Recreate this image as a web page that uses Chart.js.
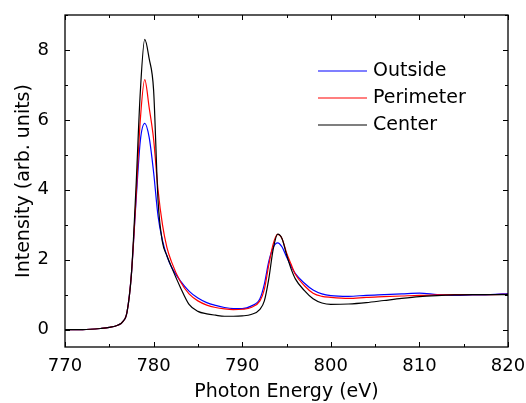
<!DOCTYPE html>
<html lang="en">
<head>
    <meta charset="UTF-8">
    <title>XAS spectra</title>
    <script src="https://cdn.jsdelivr.net/npm/chart.js"></script>
    <style>
        html, body { margin: 0; padding: 0; background: #fff; }
        #wrap { width: 526px; height: 403px; }
    </style>
</head>
<body>
    <div id="wrap"><canvas id="xasChart" width="526" height="403"></canvas></div>
    <script>
        // photon energy grid (eV)
        const energy = [770, 772, 774, 775, 776, 776.5, 777, 777.5, 778, 778.5, 779, 779.5, 780, 780.5, 781, 781.5, 782, 783, 784, 785, 786, 787, 788, 789, 790, 791, 792, 792.5, 793, 793.5, 794, 794.5, 795, 795.5, 796, 797, 798, 799, 800, 802, 804, 806, 808, 810, 812, 814, 816, 818, 820];

        const outside = [0.0, 0.0, 0.03, 0.06, 0.13, 0.22, 0.5, 1.6, 3.6, 5.4, 5.9, 5.5, 4.5, 3.25, 2.55, 2.1, 1.8, 1.4, 1.1, 0.9, 0.77, 0.69, 0.63, 0.6, 0.6, 0.67, 0.88, 1.3, 1.95, 2.35, 2.48, 2.36, 2.08, 1.82, 1.6, 1.33, 1.13, 1.02, 0.97, 0.95, 0.98, 1.0, 1.02, 1.04, 1.0, 0.98, 0.99, 1.0, 1.03];
        const perimeter = [0.0, 0.0, 0.03, 0.06, 0.13, 0.22, 0.5, 1.6, 3.7, 6.0, 7.15, 6.35, 5.45, 4.0, 3.0, 2.35, 1.95, 1.38, 1.02, 0.82, 0.7, 0.63, 0.59, 0.57, 0.58, 0.63, 0.82, 1.15, 1.85, 2.45, 2.72, 2.6, 2.2, 1.88, 1.58, 1.26, 1.04, 0.95, 0.92, 0.89, 0.92, 0.94, 0.96, 0.98, 0.99, 1.0, 1.0, 1.0, 1.01];
        const center = [0.0, 0.0, 0.03, 0.06, 0.13, 0.22, 0.5, 1.6, 4.0, 6.8, 8.3, 7.75, 6.85, 3.7, 2.5, 2.12, 1.8, 1.22, 0.72, 0.52, 0.45, 0.41, 0.38, 0.38, 0.39, 0.43, 0.58, 0.82, 1.45, 2.3, 2.73, 2.6, 2.15, 1.75, 1.45, 1.12, 0.88, 0.76, 0.72, 0.73, 0.77, 0.83, 0.89, 0.94, 0.97, 0.99, 1.0, 1.0, 1.0];

        const seriesNames = ['Outside', 'Perimeter', 'Center'];
        const seriesColors = ['#0000ff', '#ff0000', '#000000'];

        const xTicks = [770, 780, 790, 800, 810, 820];
        const xMinor = [775, 785, 795, 805, 815];
        const yTicks = [0, 2, 4, 6, 8];
        const yMinor = [1, 3, 5, 7, 9];

        const FONT = 'DejaVu Sans';

        function toPoints(ys) {
            return energy.map((e, i) => ({ x: e, y: ys[i] }));
        }

        // frame with inward ticks on all four sides
        const framePlugin = {
            id: 'frame',
            afterDatasetsDraw(chart) {
                const { ctx, chartArea: a, scales: { x, y } } = chart;
                ctx.save();
                ctx.strokeStyle = '#000';
                ctx.lineWidth = 1.3;
                ctx.strokeRect(a.left, a.top, a.right - a.left, a.bottom - a.top);
                ctx.lineWidth = 1;
                ctx.beginPath();
                const tickX = (vals, len) => vals.forEach(v => {
                    const px = Math.round(x.getPixelForValue(v)) + 0.5;
                    ctx.moveTo(px, a.bottom); ctx.lineTo(px, a.bottom - len);
                    ctx.moveTo(px, a.top); ctx.lineTo(px, a.top + len);
                });
                const tickY = (vals, len) => vals.forEach(v => {
                    const py = Math.round(y.getPixelForValue(v)) + 0.5;
                    ctx.moveTo(a.left, py); ctx.lineTo(a.left + len, py);
                    ctx.moveTo(a.right, py); ctx.lineTo(a.right - len, py);
                });
                tickX(xTicks, 5);
                tickX(xMinor, 3);
                tickY(yTicks, 5);
                tickY(yMinor, 3);
                ctx.stroke();
                ctx.restore();
            },
            afterDraw(chart) {
                // legend inside plot
                const { ctx } = chart;
                ctx.save();
                ctx.font = '19px "' + FONT + '"';
                ctx.textBaseline = 'middle';
                ctx.fillStyle = '#000';
                chart.data.datasets.forEach((ds, i) => {
                    const yy = 71 + i * 27;
                    ctx.strokeStyle = ds.borderColor;
                    ctx.lineWidth = 1.2;
                    ctx.beginPath();
                    ctx.moveTo(318, yy);
                    ctx.lineTo(367, yy);
                    ctx.stroke();
                    ctx.fillText(ds.label, 373, yy);
                });
                ctx.restore();
            }
        };

        const ctx = document.getElementById('xasChart').getContext('2d');
        new Chart(ctx, {
            type: 'scatter',
            data: {
                datasets: [outside, perimeter, center].map((ys, i) => ({
                    label: seriesNames[i],
                    data: toPoints(ys),
                    showLine: true,
                    borderColor: seriesColors[i],
                    backgroundColor: seriesColors[i],
                    borderWidth: 1.2,
                    pointRadius: 0,
                    cubicInterpolationMode: 'monotone',
                    order: 3 - i
                }))
            },
            options: {
                responsive: false,
                animation: false,
                layout: { padding: { top: 15, right: 18, left: 0, bottom: 0 } },
                plugins: {
                    legend: { display: false },
                    tooltip: { enabled: false }
                },
                scales: {
                    x: {
                        type: 'linear',
                        min: 770,
                        max: 820,
                        grid: { display: false },
                        border: { display: false },
                        afterBuildTicks: s => { s.ticks = xTicks.map(v => ({ value: v })); },
                        afterFit: s => { s.height = 56; s.paddingLeft = 0; s.paddingRight = 0; },
                        ticks: {
                            color: '#000',
                            padding: 1,
                            maxRotation: 0,
                            font: { family: FONT, size: 18 }
                        },
                        title: {
                            display: true,
                            text: 'Photon Energy (eV)',
                            color: '#000',
                            padding: { top: 0, bottom: 0 },
                            font: { family: FONT, size: 19 }
                        }
                    },
                    y: {
                        type: 'linear',
                        min: -0.5,
                        max: 9,
                        grid: { display: false },
                        border: { display: false },
                        afterBuildTicks: s => { s.ticks = yTicks.map(v => ({ value: v })); },
                        afterFit: s => { s.width = 65; s.paddingTop = 0; s.paddingBottom = 0; },
                        ticks: {
                            color: '#000',
                            padding: 8,
                            font: { family: FONT, size: 18 }
                        },
                        title: {
                            display: true,
                            text: 'Intensity (arb. units)',
                            color: '#000',
                            padding: { top: 13, bottom: 0 },
                            font: { family: FONT, size: 19 }
                        }
                    }
                }
            },
            plugins: [framePlugin]
        });
    </script>
</body>
</html>
